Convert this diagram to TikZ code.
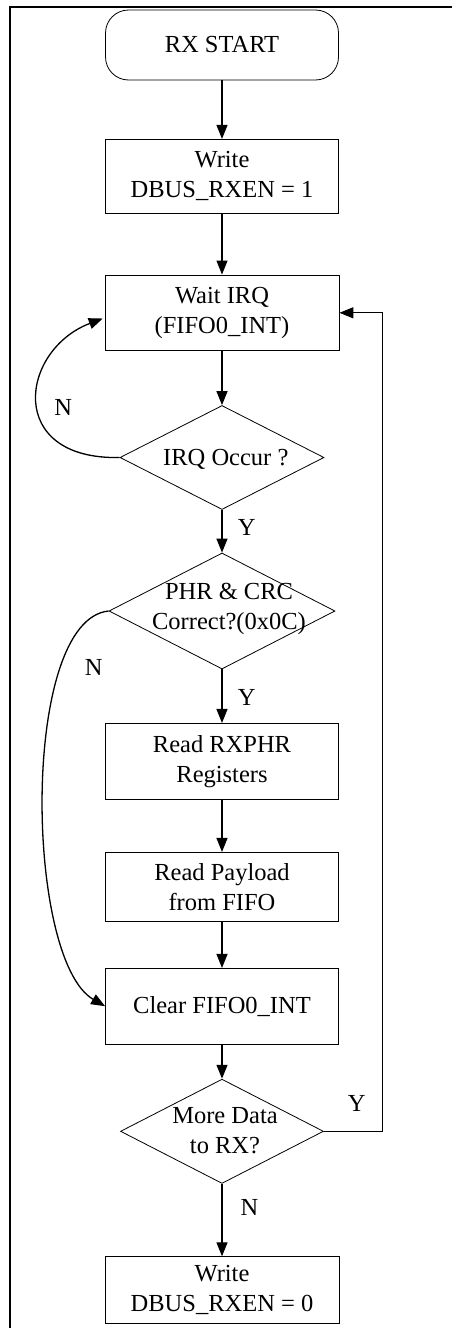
\documentclass[tikz,border=0pt]{standalone}
\usepackage{fontspec}
\setmainfont{Liberation Serif}
\usetikzlibrary{shapes.geometric,arrows.meta}
\begin{document}
\begin{tikzpicture}[x=1pt,y=-1pt,
  every node/.style={font=\fontsize{24.5}{30}\selectfont},
  box/.style={draw, line width=0.8pt, minimum width=233pt, minimum height=75pt, align=center, inner sep=0pt},
  term/.style={box, rounded corners=23pt},
  dec/.style={draw, diamond, line width=0.8pt, inner sep=0pt},
  txt/.style={align=center, inner sep=0pt},
  lab/.style={inner sep=0pt},
  arr/.style={line width=1.3pt, -{Triangle[length=14pt,width=11pt]}},
  frame/.style={line width=2pt, line join=miter}]
\useasboundingbox (0,0) rectangle (452,1328);
\draw[frame] (10,1328) -- (10,6.5) -- (452,6.5);

% nodes
\node[term, minimum height=70pt] (start) at (222,45) {RX START};
\node[box, minimum height=74pt] (w1) at (222,176.3) {Write\\DBUS\_RXEN = 1};
\node[box, minimum width=234pt, minimum height=75.7pt] (wait) at (222,312.8) {Wait IRQ\\(FIFO0\_INT)};
\node[dec, minimum width=204pt, minimum height=104pt] (irq) at (222,457.5) {};
\node[txt] (irqt) at (225.8,459.8) {IRQ Occur ?};
\node[dec, minimum width=226pt, minimum height=116pt] (phr) at (222,611) {};
\node[txt] (phrt) at (229,609) {PHR \& CRC\\Correct?(0x0C)};
\node[box, minimum height=75.7pt] (rxphr) at (222,761.2) {Read RXPHR\\Registers};
\node[box, minimum height=68.7pt] (payload) at (222,886.7) {Read Payload\\from FIFO};
\node[box, minimum height=75.7pt] (clear) at (222,1006.2) {Clear FIFO0\_INT};
\node[dec, minimum width=203pt, minimum height=104.3pt] (more) at (222,1131.3) {};
\node[txt] (moret) at (225,1130.5) {More Data\\to RX?};
\node[box, minimum width=234pt, minimum height=66.6pt] (w0) at (222,1290) {Write\\DBUS\_RXEN = 0};

% labels
\node[lab] (n1) at (63.3,407) {N};
\node[lab] (y1) at (246.7,527.5) {Y};
\node[lab] (n2) at (93.8,667) {N};
\node[lab] (y2) at (246.7,697.3) {Y};
\node[lab] (y3) at (356.8,1103.8) {Y};
\node[lab] (n3) at (249.5,1207.8) {N};

% connectors
\draw[arr] (start) -- (w1);
\draw[arr] (w1) -- (wait);
\draw[arr] (wait) -- (irq);
\draw[arr] (irq) -- (phr);
\draw[arr] (phr) -- (rxphr);
\draw[arr] (rxphr) -- (payload);
\draw[arr] (payload) -- (clear);
\draw[arr] (clear) -- (more);
\draw[arr] (more) -- (w0);
\draw[arr, shorten >=2pt] (irq.west) .. controls (5,460) and (20,350) .. ([yshift=-5pt]wait.west);
\draw[arr] (phr.west) .. controls (20,620) and (25,960) .. (clear.west);
\draw[arr] (more.east) -- ++(58.3,0) |- (wait.east);
\end{tikzpicture}
\end{document}
